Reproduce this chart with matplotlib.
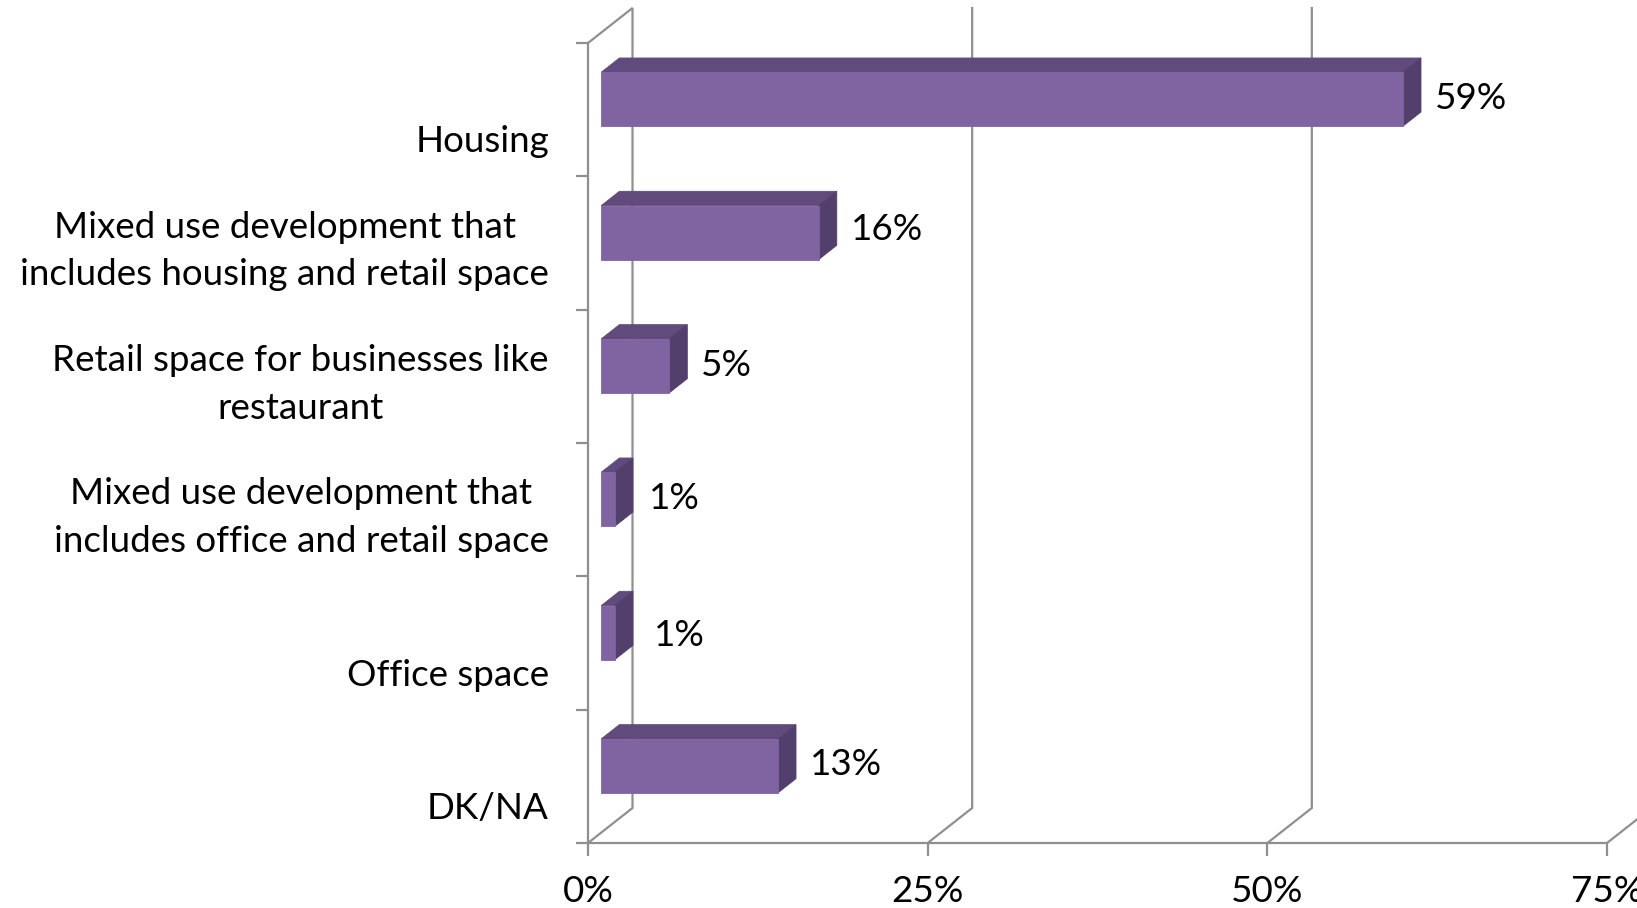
import matplotlib
matplotlib.use("Agg")
import numpy as np
import matplotlib.pyplot as plt
from matplotlib.patches import Polygon
from matplotlib.lines import Line2D
import matplotlib.transforms as mtransforms

plt.rcParams['font.family'] = ['Lato', 'DejaVu Sans']

# ---- data ----
categories = [
    "Housing",
    "Mixed use development that\nincludes housing and retail space",
    "Retail space for businesses like\nrestaurant",
    "Mixed use development that\nincludes office and retail space",
    "Office space",
    "DK/NA",
]
values = [59, 16, 5, 1, 1, 13]
value_labels = ["59%", "16%", "5%", "1%", "1%", "13%"]
x_ticks = [0, 25, 50, 75]
x_tick_labels = ["0%", "25%", "50%", "75%"]

# ---- style ----
W, H = 1637, 908
DPI = 100
FRONT = "#8064A2"
TOP = "#604B7C"
SIDE = "#533F6B"
GRID = "#8F8F8F"
FS = 26.5
DEPTH = np.array([44.5, 35.0])      # wall depth in pixels
BAR_FRONT = 0.295                   # bar front position as fraction of depth
BAR_DEPTH = 0.41                    # bar depth fraction
BAR_H = 0.405                       # bar height (category units)

fig = plt.figure(figsize=(W / DPI, H / DPI), dpi=DPI)
ax = fig.add_axes([588 / W, 65 / H, 1019 / W, 800 / H])
n = len(categories)
ax.set_xlim(0, 75)
ax.set_ylim(n - 0.5, -0.5)
ax.set_facecolor("none")

ident = mtransforms.IdentityTransform()


def disp(x, y, d=0.0):
    p = ax.transData.transform((x, y))
    return p + d * DEPTH

# back walls / gridlines
for g in x_ticks:
    pts = [disp(g, n - 0.5, 0), disp(g, n - 0.5, 1)]
    if g < 75:
        pts.append(disp(g, -0.5, 1))
    if g == 0:
        pts.append(disp(g, -0.5, 0))
    pts = np.array(pts)
    fig.add_artist(Line2D(pts[:, 0], pts[:, 1], transform=ident, color=GRID,
                          lw=1.6, zorder=1, solid_joinstyle='miter'))

# bars
label_dx = [14, 14, 14, 16, 21, 14]
label_dy = [11, 13, 11, 11, 8, 12]
for i, v in enumerate(values):
    y0, y1 = i + BAR_H / 2, i - BAR_H / 2   # y0 bottom, y1 top (inverted axis)
    df, db = BAR_FRONT, BAR_FRONT + BAR_DEPTH
    front = [disp(0, y0, df), disp(v, y0, df), disp(v, y1, df), disp(0, y1, df)]
    top = [disp(0, y1, df), disp(v, y1, df), disp(v, y1, db), disp(0, y1, db)]
    side = [disp(v, y0, df), disp(v, y0, db), disp(v, y1, db), disp(v, y1, df)]
    for poly, c in ((top, TOP), (side, SIDE), (front, FRONT)):
        fig.add_artist(Polygon(poly, closed=True, transform=ident, facecolor=c,
                               edgecolor=c, lw=0.6, zorder=3))
    ax.annotate(value_labels[i], xy=(v, i), xycoords='data',
                xytext=((BAR_FRONT + BAR_DEPTH) * DEPTH[0] + label_dx[i],
                        label_dy[i]),
                textcoords='offset pixels', ha='left', va='center',
                fontsize=FS, color='black', annotation_clip=False)

# category labels
for i, c in enumerate(categories):
    nl = c.count("\n") + 1
    dy = -(8 + 24 * (2 - nl))
    ax.annotate(c, xy=(0, i), xycoords='data', xytext=(-39, dy),
                textcoords='offset pixels', ha='right', va='center',
                multialignment='center', fontsize=FS, linespacing=1.55,
                color='black', annotation_clip=False)

# axes styling
for s in ("top", "right"):
    ax.spines[s].set_visible(False)
for s in ("left", "bottom"):
    ax.spines[s].set_color(GRID)
    ax.spines[s].set_linewidth(1.6)
    ax.spines[s].set_zorder(4)
ax.set_yticks(np.arange(-0.5, n, 1.0))
ax.set_yticklabels([])
ax.set_xticks(x_ticks)
ax.set_xticklabels(x_tick_labels, fontsize=FS)
ax.tick_params(axis='both', direction='out', color=GRID, width=1.6,
               length=9)
ax.tick_params(axis='x', pad=14)

fig.savefig("out.png", dpi=DPI)
